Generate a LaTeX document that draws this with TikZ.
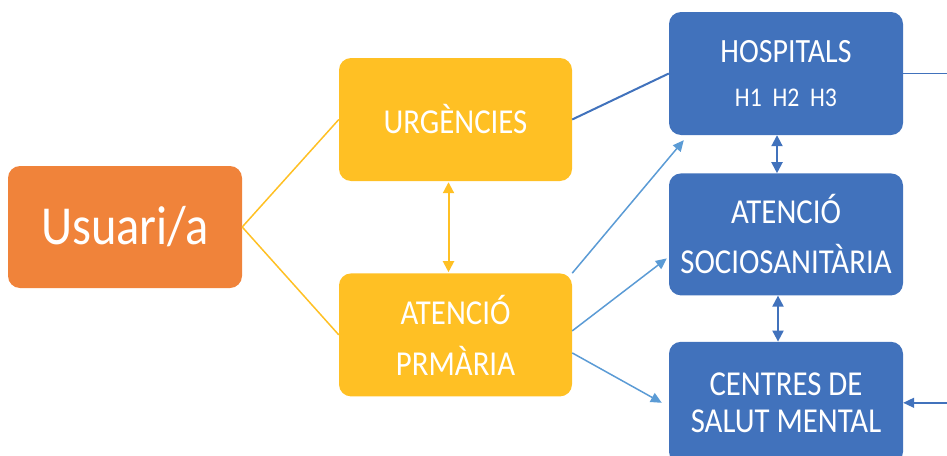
\documentclass[tikz,border=0pt]{standalone}
\usepackage{fontspec}
\setmainfont{Carlito}[FakeStretch=0.88]
\usetikzlibrary{arrows.meta,positioning}
\definecolor{usercolor}{RGB}{240,131,58}
\definecolor{primcolor}{RGB}{255,192,36}
\definecolor{hospcolor}{RGB}{65,114,188}
\definecolor{linkcolor}{RGB}{91,155,213}

\begin{document}
\begin{tikzpicture}[
    x=1pt, y=-1pt,
    box/.style={rectangle, rounded corners=12pt, inner sep=0pt, minimum width=233pt, minimum height=123pt, text=white, align=center, font=\fontsize{35}{51}\selectfont},
    userline/.style={primcolor, line width=1.5pt},
    twoway/.style={{Triangle[length=11pt,width=11pt]}-{Triangle[length=11pt,width=11pt]}, line width=2pt},
    arrow/.style={-{Triangle[length=11pt,width=10pt]}, linkcolor, line width=1.5pt}
]
\useasboundingbox (0,0) rectangle (947,455);

% left column
\node[box, fill=usercolor, minimum width=234pt, minimum height=122pt, font=\fontsize{55}{60}\selectfont] (usr) at (125,227) {Usuari/a};
\node[box, fill=primcolor, font=\fontsize{35}{40}\selectfont] (urg) at (455.5,119.5) {URGÈNCIES};
\node[box, fill=primcolor, below=92pt of urg] (prim) {ATENCIÓ\\PRMÀRIA};

% right column
\node[box, fill=hospcolor, minimum width=234pt, font=\fontsize{34}{44}\selectfont] (hosp) at (786,73.5) {HOSPITALS\\\fontsize{27}{44}\selectfont H1~~H2~~H3};
\node[box, fill=hospcolor, minimum width=234pt, minimum height=122pt, below=38pt of hosp, font=\fontsize{35}{50}\selectfont] (soc) {ATENCIÓ\\SOCIOSANITÀRIA};
\node[box, fill=hospcolor, minimum width=234pt, minimum height=122pt, below=46pt of soc, font=\fontsize{35}{37}\selectfont] (ment) {CENTRES DE\\SALUT MENTAL};
\coordinate[right=44pt of hosp.east] (hout);
\coordinate[right=44pt of ment.east] (cin);

\draw[userline] (usr.east) -- (urg.west);
\draw[userline] (usr.east) -- (prim.west);
\draw[twoway, primcolor] ([xshift=-7pt,yshift=-1pt]urg.south) -- ([xshift=-7pt,yshift=1pt]prim.north);
\draw[hospcolor, line width=2pt] (urg.east) -- (hosp.west);
\draw[hospcolor, line width=1.5pt] (hosp.east) -- (hout);
\draw[arrow, hospcolor] (cin) -- (ment.east);
\draw[arrow] (prim.north east) -- ([xshift=15pt,yshift=-5pt]hosp.south west);
\draw[arrow] ([yshift=4pt]prim.east) -- ([xshift=-2pt,yshift=-24pt]soc.west);
\draw[arrow] ([yshift=-18pt]prim.east) -- ([xshift=-7pt]ment.west);
\draw[twoway, hospcolor] ([xshift=-9pt]hosp.south) -- ([xshift=-9pt]soc.north);
\draw[twoway, hospcolor] ([xshift=-8pt]soc.south) -- ([xshift=-8pt]ment.north);
\end{tikzpicture}
\end{document}
